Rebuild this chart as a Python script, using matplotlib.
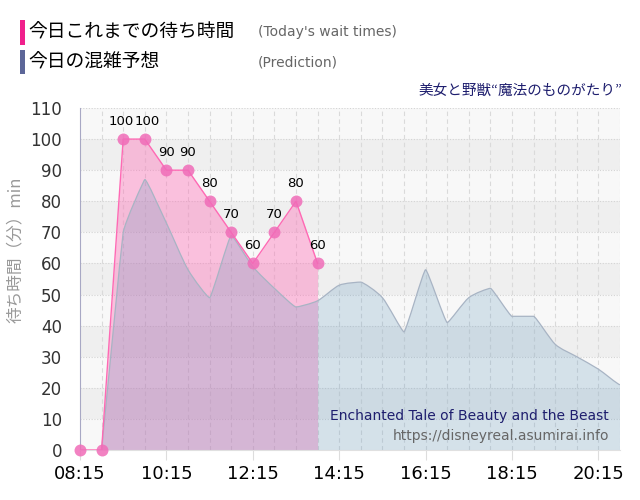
import numpy as np
import matplotlib
matplotlib.use("Agg")
import matplotlib.pyplot as plt
from matplotlib.path import Path
from matplotlib.patches import PathPatch, Rectangle

plt.rcParams['font.family'] = ['DejaVu Sans']
JP = ['Noto Sans CJK JP', 'DejaVu Sans']

# today's wait times (30 min steps)
wait_times = ['08:15', '08:45', '09:15', '09:45', '10:15', '10:45', '11:15',
              '11:45', '12:15', '12:45', '13:15', '13:45']
wait_vals = [0, 0, 100, 100, 90, 90, 80, 70, 60, 70, 80, 60]

# prediction
pred_times = ['08:45', '09:15', '09:45', '10:15', '10:45', '11:15', '11:45',
              '12:15', '12:45', '13:15', '13:45', '14:15', '14:45', '15:15',
              '15:45', '16:15', '16:45', '17:15', '17:45', '18:15', '18:45',
              '19:15', '19:45', '20:15', '20:45']
pred_vals = [0, 70, 87, 73, 58, 49, 69, 59, 52, 46, 48, 53, 54, 49,
             38, 58, 41, 49, 52, 43, 43, 34, 30, 26, 21]

xtick_labels = ['08:15', '10:15', '12:15', '14:15', '16:15', '18:15', '20:15']


def to_min(s):
    h, m = s.split(':')
    return int(h) * 60 + int(m)


wx = np.array([to_min(t) for t in wait_times], float)
wy = np.array(wait_vals, float)
px = np.array([to_min(t) for t in pred_times], float)
py = np.array(pred_vals, float)


def smooth_path(x, y):
    # cubic bezier through points, pointed at local extrema
    n = len(x)
    m = np.zeros(n)
    for i in range(1, n - 1):
        if (y[i] - y[i - 1]) * (y[i + 1] - y[i]) > 0:
            m[i] = (y[i + 1] - y[i - 1]) / (x[i + 1] - x[i - 1])
    verts = [(x[0], y[0])]
    codes = [Path.MOVETO]
    for i in range(n - 1):
        dx = x[i + 1] - x[i]
        h0 = 0.25 * dx if m[i] != 0 else 0.1 * dx
        h1 = 0.25 * dx if m[i + 1] != 0 else 0.1 * dx
        if i == 0:
            h0 = 0
        if i == 0 or i == 1:
            # steep start: keep it nearly straight
            h0, h1 = h0 * 0.3, h1 * 0.3
        verts += [(x[i] + h0, y[i] + m[i] * h0),
                  (x[i + 1] - h1, y[i + 1] - m[i + 1] * h1),
                  (x[i + 1], y[i + 1])]
        codes += [Path.CURVE4] * 3
    return verts, codes


fig = plt.figure(figsize=(6.4, 5), dpi=100)
ax = fig.add_axes([80 / 640, 50 / 500, 540 / 640, 342 / 500])
ax.set_xlim(to_min('08:15'), to_min('20:45'))
ax.set_ylim(0, 110)
ax.set_facecolor('#f8f8f8')

for k in range(11):
    if k % 2 == 1:
        ax.axhspan(k * 10, k * 10 + 10, color='#efefef', zorder=0, lw=0)
for v in range(10, 111, 10):
    ax.axhline(v, color='#d4d4d4', lw=0.8, ls=(0, (1, 1.5)), zorder=0.5)
for t in np.arange(to_min('08:45'), to_min('20:45') + 1, 30):
    ax.axvline(t, color='#dadada', lw=0.8, ls=(0, (4, 3)), zorder=0.5)

# today's wait times
ax.fill_between(wx, 0, wy, color='#ff69b4', alpha=0.39, lw=0, zorder=1)
ax.plot(wx, wy, color='#ff69b4', lw=1, zorder=3)
ax.plot(wx, wy, 'o', ms=8.6, color='#f06cb8', alpha=0.85, mec='none',
        zorder=4, clip_on=False)
for i, (x, y) in enumerate(zip(wx, wy)):
    if y > 0:
        dx = 0
        if i == 2:
            dx = -1.5
        elif i == 3:
            dx = 1.5
        ax.annotate(str(int(y)), (x, y), xytext=(dx, 13), textcoords='offset points',
                    ha='center', va='center', fontsize=9.5, color='black', zorder=5)

# prediction
verts, codes = smooth_path(px, py)
fverts = [(px[0], 0)] + verts[1:] + [(px[-1], 0), (px[0], 0)]
fcodes = [Path.MOVETO] + codes[1:] + [Path.LINETO, Path.CLOSEPOLY]
ax.add_patch(PathPatch(Path(fverts, fcodes), transform=ax.transData,
                       facecolor='#6299bd', alpha=0.24, lw=0, zorder=2))
ax.add_patch(PathPatch(Path(verts, codes), transform=ax.transData,
                       facecolor='none', edgecolor='#a8b4c4', lw=0.9, zorder=2.5))

ax.set_xticks([to_min(t) for t in xtick_labels])
ax.set_xticklabels(xtick_labels)
ax.set_yticks(range(0, 111, 10))
ax.tick_params(axis='x', length=7, color='#dddddd', labelsize=13, pad=4,
               labelcolor='black')
ax.tick_params(axis='y', length=0, labelsize=12, pad=13, labelcolor='#333333')
for s in ['top', 'right']:
    ax.spines[s].set_visible(False)
ax.spines['left'].set_color('#a8a8c4')
ax.spines['bottom'].set_color('#e0e0e0')

ax.text(0.98, 0.10, 'Enchanted Tale of Beauty and the Beast', transform=ax.transAxes,
        ha='right', va='center', fontsize=10, color='#1e1e6e', zorder=6)
ax.text(0.98, 0.042, 'https://disneyreal.asumirai.info', transform=ax.transAxes,
        ha='right', va='center', fontsize=10, color='#666666', zorder=6)

# legend / header
fig.add_artist(Rectangle((20 / 640, 1 - 45 / 500), 5 / 640, 25 / 500,
                         transform=fig.transFigure, color='#f0208c', lw=0))
fig.add_artist(Rectangle((20 / 640, 1 - 74 / 500), 5 / 640, 24 / 500,
                         transform=fig.transFigure, color='#5c6698', lw=0))
fig.text(28 / 640, 1 - 32 / 500, '今日これまでの待ち時間', family=JP, fontsize=13.5,
         va='center', ha='left', color='black')
fig.text(28 / 640, 1 - 62 / 500, '今日の混雑予想', family=JP, fontsize=13.5,
         va='center', ha='left', color='black')
fig.text(258 / 640, 1 - 32 / 500, "(Today's wait times)", fontsize=10,
         va='center', ha='left', color='#666666')
fig.text(258 / 640, 1 - 62 / 500, '(Prediction)', fontsize=10,
         va='center', ha='left', color='#666666')
fig.text(622 / 640, 1 - 91 / 500, '美女と野獣“魔法のものがたり”', family=JP,
         fontsize=10.5, va='center', ha='right', color='#1e1e6e')
fig.text(15 / 640, 1 - 250 / 500, '待ち時間（分）min', family=JP, fontsize=12,
         rotation=90, va='center', ha='center', color='#999999')

fig.savefig('out.png', dpi=100)
